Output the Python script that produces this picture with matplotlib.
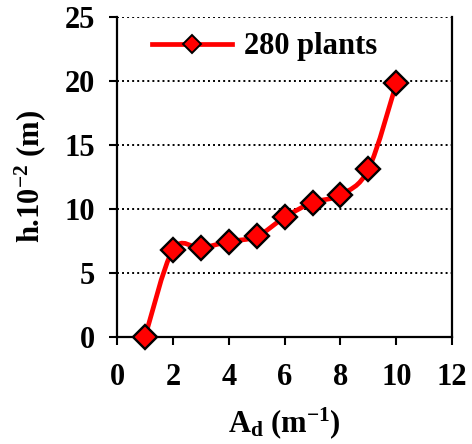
import matplotlib
matplotlib.use('Agg')
import matplotlib.pyplot as plt
from matplotlib.path import Path
from matplotlib.patches import PathPatch
from matplotlib.lines import Line2D

plt.rcParams['font.family'] = ['Liberation Serif', 'DejaVu Serif']
plt.rcParams['font.weight'] = 'bold'
plt.rcParams['mathtext.fontset'] = 'custom'
plt.rcParams['mathtext.rm'] = 'Liberation Serif:bold'
plt.rcParams['mathtext.bf'] = 'Liberation Serif:bold'
plt.rcParams['mathtext.it'] = 'Liberation Serif:bold'

# data
ad = [1, 2, 3, 4, 5, 6, 7, 8, 9, 10]
h = [0.0, 6.8, 6.95, 7.45, 7.85, 9.35, 10.5, 11.1, 13.1, 19.8]
series_name = '280 plants'
xticks = [0, 2, 4, 6, 8, 10, 12]
yticks = [0, 5, 10, 15, 20, 25]

FS = 22

fig = plt.figure(figsize=(4.72, 4.44), dpi=100)
ax = fig.add_axes([0.248, 0.241, 0.71, 0.721])

# smoothed line like the spreadsheet one (catmull-rom as bezier segments)
pts = list(zip(ad, h))
n = len(pts)
verts = [pts[0]]
codes = [Path.MOVETO]
for i in range(n - 1):
    p0 = pts[max(i - 1, 0)]
    p1 = pts[i]
    p2 = pts[i + 1]
    p3 = pts[min(i + 2, n - 1)]
    c1 = (p1[0] + (p2[0] - p0[0]) / 6, p1[1] + (p2[1] - p0[1]) / 6)
    c2 = (p2[0] - (p3[0] - p1[0]) / 6, p2[1] - (p3[1] - p1[1]) / 6)
    verts += [c1, c2, p2]
    codes += [Path.CURVE4] * 3
ax.add_patch(PathPatch(Path(verts, codes), fill=False, edgecolor='#ff0000',
                       lw=3.4, zorder=3, capstyle='round', joinstyle='round'))

ax.plot(ad, h, linestyle='none', marker='D', ms=12.5, mfc='#ff0000',
        mec='black', mew=1.7, zorder=4, clip_on=False)

for yv in yticks[1:]:
    ax.axhline(yv, color='black', lw=1.4, ls=(0, (1, 1.6)), zorder=1)

ax.set_xlim(0, 12)
ax.set_ylim(0, 25)
ax.set_xticks(xticks)
ax.set_yticks(yticks)
ax.spines['top'].set_visible(False)
for s in ['left', 'right', 'bottom']:
    ax.spines[s].set_linewidth(1.6)
ax.tick_params(direction='out', length=6, width=1.5, labelsize=FS)
ax.tick_params(axis='y', pad=10)
ax.tick_params(axis='x', pad=13)

ax.set_xlabel(r'A$_{\mathrm{d}}$ (m$^{\mathrm{-1}}$)', fontsize=FS, fontweight='bold', labelpad=9)
ax.set_ylabel(r'h.10$^{\mathrm{-2}}$ (m)', fontsize=FS, fontweight='bold', labelpad=12)

proxy = Line2D([], [], color='#ff0000', lw=3.4, marker='D', ms=9,
               mfc='#ff0000', mec='black', mew=1.4)
ax.legend([proxy], [series_name], loc='center left', bbox_to_anchor=(0.105, 0.906),
          frameon=False, handlelength=2.6, handletextpad=0.4,
          borderpad=0, borderaxespad=0, prop={'weight': 'bold', 'size': FS})

fig.savefig('out.png', dpi=100)
